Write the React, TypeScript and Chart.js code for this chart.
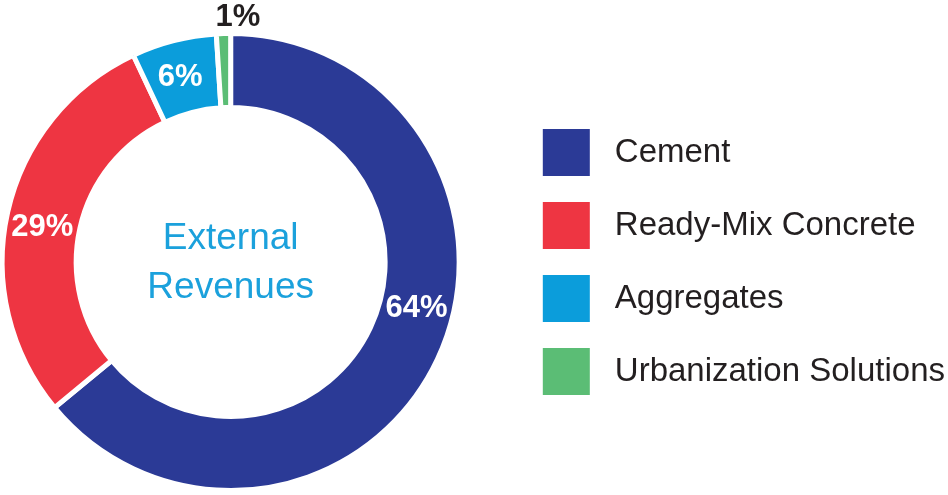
import React, { useEffect, useRef } from 'react';
import { Chart, registerables } from 'chart.js';

Chart.register(...registerables);

const categories = ['Cement', 'Ready-Mix Concrete', 'Aggregates', 'Urbanization Solutions'];
const shares = [64, 29, 6, 1];
const colors = ['#2b3a96', '#ee3542', '#0b9ddb', '#5bbd75'];
const centerLines = ['External', 'Revenues'];

const FONT = "'Liberation Sans', Arial, Helvetica, sans-serif";

const sliceLabelPlugin = {
  id: 'sliceLabels',
  afterDatasetsDraw(chart: any, _args: any, opts: any) {
    const meta = chart.getDatasetMeta(0);
    const ctx = chart.ctx;
    const values = chart.data.datasets[0].data;
    ctx.save();
    ctx.textAlign = 'center';
    ctx.textBaseline = 'middle';
    ctx.font = `bold ${opts.size}px ${FONT}`;
    meta.data.forEach((arc: any, i: number) => {
      const { x, y, startAngle, endAngle, innerRadius, outerRadius } = arc.getProps(
        ['x', 'y', 'startAngle', 'endAngle', 'innerRadius', 'outerRadius'],
        true
      );
      const place = opts.placement[i] || {};
      const mid = (startAngle + endAngle) / 2 + ((place.shift || 0) * Math.PI) / 180;
      const r = place.outside ? outerRadius + place.outside : (innerRadius + outerRadius) / 2;
      ctx.fillStyle = place.outside ? opts.outsideColor : opts.color;
      ctx.fillText(`${values[i]}%`, x + r * Math.cos(mid), y + r * Math.sin(mid));
    });
    const first = meta.data[0];
    ctx.font = `${opts.centerSize}px ${FONT}`;
    ctx.fillStyle = opts.centerColor;
    ctx.textBaseline = 'alphabetic';
    opts.centerLines.forEach((t: string, k: number) => {
      ctx.fillText(t, first.x, first.y + opts.centerOffsets[k]);
    });
    ctx.restore();
  },
};

export default function App() {
  const canvasRef = useRef<HTMLCanvasElement | null>(null);

  useEffect(() => {
    if (!canvasRef.current) return;
    const chart = new Chart(canvasRef.current, {
      type: 'doughnut',
      data: {
        labels: categories,
        datasets: [
          {
            data: shares,
            backgroundColor: colors,
            borderColor: '#ffffff',
            borderWidth: 5,
            hoverOffset: 0,
          },
        ],
      },
      options: {
        responsive: true,
        maintainAspectRatio: false,
        animation: false,
        events: [],
        cutout: '67.6%',
        layout: { padding: { left: 0, right: -7, top: 31, bottom: 2 } },
        plugins: {
          tooltip: { enabled: false },
          legend: {
            position: 'right',
            align: 'center',
            labels: {
              boxWidth: 64,
              boxHeight: 64,
              padding: 9,
              color: '#231f20',
              font: { family: FONT, size: 33 },
              generateLabels: (c: any) => {
                const base = (Chart as any).overrides.doughnut.plugins.legend.labels.generateLabels(c);
                return base.map((it: any) => ({ ...it, strokeStyle: '#ffffff', lineWidth: 17 }));
              },
            },
          },
          sliceLabels: {
            size: 31,
            color: '#ffffff',
            outsideColor: '#231f20',
            placement: [{ shift: -11.3 }, { shift: -2.3 }, { shift: -0.9 }, { shift: 3.5, outside: 16.5 }],
            centerSize: 37,
            centerColor: '#1ba1dc',
            centerLines: centerLines,
            centerOffsets: [-13, 36],
          },
        } as any,
      },
      plugins: [sliceLabelPlugin],
    });
    return () => chart.destroy();
  }, []);

  return (
    <div style={{ position: 'absolute', left: -64, top: 0, width: 1012, height: 495, background: '#ffffff' }}>
      <canvas ref={canvasRef} style={{ display: 'block' }} />
    </div>
  );
}
